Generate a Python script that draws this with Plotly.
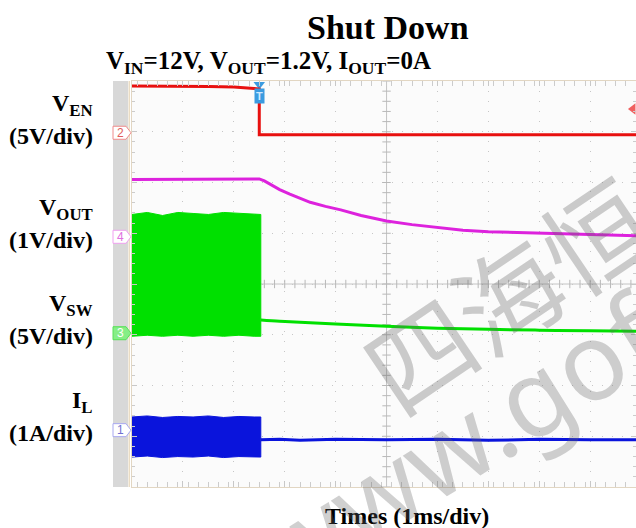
import numpy as np
import plotly.graph_objects as go

# time in ms, relative to the trigger (EN falling edge)
ven_t = [-2.5, -2.0, -1.5, -1.0, -0.5, -0.25, -0.1, 0.0, 0.0, 1.0, 2.5, 4.0, 5.5, 7.4]
ven_v = [4.6, 4.6, 4.55, 4.55, 4.5, 4.45, 4.35, 4.3, -0.2, -0.2, -0.2, -0.2, -0.2, -0.2]

vout_t = [-2.5, -1.0, 0.0, 0.1, 0.2, 0.4, 0.6, 0.8, 1.0, 1.3, 1.6, 2.0, 2.5, 3.0, 3.5, 4.0, 4.5, 5.5, 6.5, 7.4]
vout_v = [1.13, 1.14, 1.14, 1.10, 1.04, 0.93, 0.84, 0.76, 0.68, 0.60, 0.53, 0.42, 0.31, 0.24, 0.18, 0.13,
          0.10, 0.07, 0.04, 0.02]

# switching envelope before shutdown
sw_t = [-2.5, -2.2, -1.9, -1.6, -1.3, -1.0, -0.7, -0.4, -0.1, 0.03]
vsw_max = [11.7, 11.9, 11.6, 11.9, 11.8, 11.7, 11.9, 11.8, 11.7, 11.7]
vsw_min = [-0.3, -0.2, -0.3, -0.2, -0.3, -0.2, -0.3, -0.2, -0.3, -0.3]
il_max = [0.26, 0.28, 0.25, 0.27, 0.26, 0.28, 0.25, 0.27, 0.26, 0.26]
il_min = [-0.53, -0.51, -0.54, -0.52, -0.53, -0.51, -0.54, -0.52, -0.53, -0.53]

# after shutdown
off_t = [0.03, 0.4, 0.8, 1.5, 2.5, 3.5, 4.5, 5.5, 6.5, 7.4]
vsw_off = [1.30, 1.18, 1.08, 0.90, 0.69, 0.50, 0.38, 0.30, 0.24, 0.20]
il_off = [-0.19, -0.18, -0.2, -0.18, -0.19, -0.18, -0.2, -0.18, -0.19, -0.19]

# channel: (axis, volts/div, ground position in divisions, color, label, scale label, marker no.)
channels = [
    ("y2", 5, 6.98, "#e8100f", "V<sub>EN</sub>", "(5V/div)", "2"),
    ("y3", 1, 4.93, "#dd22dd", "V<sub>OUT</sub>", "(1V/div)", "4"),
    ("y4", 5, 3.03, "#00e000", "V<sub>SW</sub>", "(5V/div)", "3"),
    ("y5", 1, 1.12, "#0a14dc", "I<sub>L</sub>", "(1A/div)", "1"),
]

W, H = 636, 528
L, R, T, B = 132, 0, 81, 41
pw, ph = W - L - R, H - T - B


def px(x):
    # pixel column -> paper coordinate
    return (x - L) / pw


def py(y):
    return (H - B - y) / ph


fig = go.Figure()

# center cross tick marks
fig.add_trace(go.Scatter(x=np.arange(-2.5, 7.45, 0.2), y=[4] * 50, mode="markers",
                         marker=dict(symbol="line-ns", size=6, line=dict(width=1, color="#b8b8b8")),
                         hoverinfo="skip", showlegend=False))
fig.add_trace(go.Scatter(x=[2.5] * 41, y=np.arange(0, 8.01, 0.2), mode="markers",
                         marker=dict(symbol="line-ew", size=6, line=dict(width=1, color="#b8b8b8")),
                         hoverinfo="skip", showlegend=False))

red, mag, grn, blu = [c[3] for c in channels]

fig.add_trace(go.Scatter(x=ven_t, y=ven_v, yaxis="y2", mode="lines",
                         line=dict(color=red, width=3), showlegend=False))
fig.add_trace(go.Scatter(x=vout_t, y=vout_v, yaxis="y3", mode="lines",
                         line=dict(color=mag, width=3), showlegend=False))
fig.add_trace(go.Scatter(x=sw_t + sw_t[::-1], y=vsw_max + vsw_min[::-1], yaxis="y4", mode="lines",
                         fill="toself", fillcolor=grn, line=dict(color=grn, width=1), showlegend=False))
fig.add_trace(go.Scatter(x=off_t, y=vsw_off, yaxis="y4", mode="lines", line_shape="spline",
                         line=dict(color=grn, width=3), showlegend=False))
fig.add_trace(go.Scatter(x=sw_t + sw_t[::-1], y=il_max + il_min[::-1], yaxis="y5", mode="lines",
                         fill="toself", fillcolor=blu, line=dict(color=blu, width=1), showlegend=False))
fig.add_trace(go.Scatter(x=off_t, y=il_off, yaxis="y5", mode="lines",
                         line=dict(color=blu, width=3), showlegend=False))

# trigger markers
fig.add_trace(go.Scatter(x=[0], y=[7.93], mode="markers", cliponaxis=False,
                         marker=dict(symbol="triangle-down", size=10, color="#3b9be0"),
                         showlegend=False))
fig.add_trace(go.Scatter(x=[7.34], y=[2.35], yaxis="y2", mode="markers", cliponaxis=False,
                         marker=dict(symbol="triangle-left", size=10, color="#f06060"),
                         showlegend=False))

shapes = [
    # left gray strip of the scope screen
    dict(type="rect", xref="paper", yref="paper", x0=px(113), x1=px(128), y0=0, y1=1,
         fillcolor="#d8d8d8", line_width=0, layer="below"),
    dict(type="rect", xref="paper", yref="paper", x0=px(128.5), x1=px(130), y0=0, y1=1,
         fillcolor="#eadcc4", line_width=0, layer="below"),
    # center cross
    dict(type="line", x0=2.5, x1=2.5, y0=0, y1=8, line=dict(color="#c4c4c4", width=1), layer="below"),
    dict(type="line", x0=-2.5, x1=7.4, y0=4, y1=4, line=dict(color="#c4c4c4", width=1), layer="below"),
]

annotations = []
markstyle = {
    "2": ("#f08c8c", "white", "#e05a5a"),
    "4": ("#f0a0f0", "white", "#e070e0"),
    "3": ("#58e058", "#86ee86", "white"),
    "1": ("#a8a8f0", "white", "#7070d0"),
}
dh = 6.5 / (ph / 8)
for ax, scale, g, col, name, div, num in channels:
    edge, fill, txt = markstyle[num]
    x0, x1, x2 = px(113), px(126), px(131)
    shapes.append(dict(type="path", xref="paper", yref="y",
                       path=f"M {x0},{g - dh} L {x1},{g - dh} L {x2},{g} L {x1},{g + dh} L {x0},{g + dh} Z",
                       fillcolor=fill, line=dict(color=edge, width=1)))
    annotations.append(dict(text=num, xref="paper", yref="y", x=px(120), y=g, showarrow=False,
                            xanchor="center", yanchor="middle",
                            font=dict(family="Liberation Sans", size=12, color=txt)))
    gy = H - B - g * ph / 8  # pixel row of the ground marker
    annotations.append(dict(text=f"<b>{name}</b>", xref="paper", yref="paper", x=px(95), y=py(gy - 28),
                            xanchor="right", yanchor="middle", showarrow=False,
                            font=dict(family="Liberation Serif", size=24, color="black")))
    annotations.append(dict(text=f"<b>{div}</b>", xref="paper", yref="paper", x=px(95), y=py(gy + 3),
                            xanchor="right", yanchor="middle", showarrow=False,
                            font=dict(family="Liberation Serif", size=24, color="black")))

annotations += [
    dict(text="<b>Shut Down</b>", xref="paper", yref="paper", x=px(388), y=py(27),
         xanchor="center", yanchor="middle",
         showarrow=False, font=dict(family="Liberation Serif", size=34, color="black")),
    dict(text="<b>V<sub>IN</sub>=12V, V<sub>OUT</sub>=1.2V, I<sub>OUT</sub>=0A</b>", xref="paper", yref="paper",
         x=px(104), y=py(63), xanchor="left", yanchor="middle", showarrow=False,
         font=dict(family="Liberation Serif", size=25, color="black")),
    dict(text="<b>Times (1ms/div)</b>", xref="paper", yref="paper", x=px(407), y=py(516),
         xanchor="center", yanchor="middle",
         showarrow=False, font=dict(family="Liberation Serif", size=24, color="black")),
    dict(text="<b>T</b>", x=0, y=py(96) * 8, xref="x", yref="y", showarrow=False,
         xanchor="center", yanchor="middle",
         bgcolor="#3b9be0", borderpad=1, font=dict(family="Liberation Sans", size=11, color="#cfe8ff")),
    # watermark
    dict(text="四海恒", xref="paper", yref="paper", x=px(506), y=py(292), textangle=-34, showarrow=False,
         xanchor="center", yanchor="middle",
         font=dict(family="Noto Sans CJK SC", size=106, color="rgba(100,100,100,0.32)")),
    dict(text="www.gof", xref="paper", yref="paper", x=px(458), y=py(440), textangle=-32, showarrow=False,
         xanchor="center", yanchor="middle",
         font=dict(family="Noto Sans", size=108, color="rgba(100,100,100,0.30)")),
]

axis_common = dict(showticklabels=False, zeroline=False, showline=True, linecolor="#e2d6c2",
                   mirror="allticks", ticks="inside", ticklen=5, tickcolor="#c8c8c8",
                   showgrid=True, gridcolor="#c6c6c6", griddash="1px,9px", gridwidth=1,
                   minor=dict(ticks="inside", ticklen=3, tickcolor="#cccccc", showgrid=False))

layout = dict(
    width=W, height=H, margin=dict(l=L, r=R, t=T, b=B),
    paper_bgcolor="white", plot_bgcolor="#fbfbfb",
    xaxis=dict(range=[-2.5, 7.4], tick0=0.5, dtick=1, **axis_common),
    yaxis=dict(range=[0, 8], dtick=1, **axis_common),
    shapes=shapes, annotations=annotations, showlegend=False,
)
layout["xaxis"]["minor"] = dict(layout["xaxis"]["minor"], dtick=0.2)
layout["yaxis"]["minor"] = dict(layout["yaxis"]["minor"], dtick=0.2)
for ax, scale, g, *_ in channels:
    layout["yaxis" + ax[1:]] = dict(overlaying="y", visible=False,
                                    range=[-g * scale, (8 - g) * scale])

fig.update_layout(**layout)
# drop the default page margin so the figure fills the window exactly
fig.write_html("out.html", config={"displayModeBar": False},
               post_script="document.body.style.margin = '0';")
